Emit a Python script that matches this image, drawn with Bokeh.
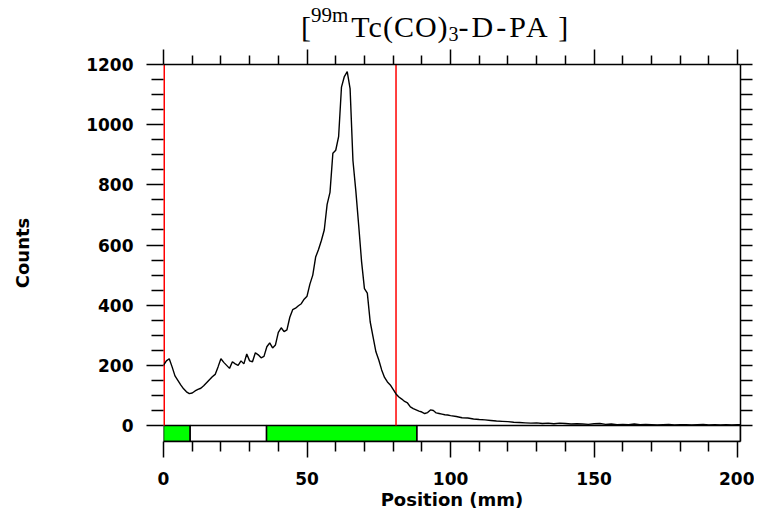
from bokeh.plotting import figure
from bokeh.models import (LinearAxis, FixedTicker, CustomJSTickFormatter, Range1d, Div)
from bokeh.layouts import column
from bokeh.embed import file_html
from bokeh.resources import INLINE

# ---- data ----
position = [0, 1, 2, 3, 4, 5, 6, 7, 8, 9, 10, 11, 12, 13, 14, 15, 16, 17, 18, 19,
            20, 21, 22, 23, 24, 25, 26, 27, 28, 29, 30, 31, 32, 33, 34, 35, 36, 37, 38, 39,
            40, 41, 42, 43, 44, 45, 46, 47, 48, 49, 50, 51, 52, 53, 54, 55, 56, 57, 58, 59,
            60, 61, 62, 63, 64, 65, 66, 67, 68, 69, 70, 71, 72, 73, 74, 75, 76, 77, 78, 79,
            80, 81, 82, 83, 84, 85, 86, 87, 88, 89, 90, 91, 92, 93, 94, 95, 96, 97, 98, 99,
            100, 102, 104, 106, 108, 110, 112, 114, 116, 118, 120, 122, 124, 126, 128, 130,
            132, 134, 136, 138, 140, 142, 144, 146, 148, 150, 152, 154, 156, 158, 160, 162,
            164, 166, 168, 170, 172, 174, 176, 178, 180, 182, 184, 186, 188, 190, 192, 194,
            196, 198, 200, 201]
counts = [200, 215, 222, 195, 165, 150, 135, 122, 112, 106, 108, 115, 120, 124, 132, 142, 152, 162, 170, 195,
          222, 210, 200, 190, 212, 205, 200, 215, 205, 238, 215, 212, 242, 235, 225, 230, 262, 275, 258, 268,
          310, 325, 312, 318, 360, 385, 390, 398, 405, 420, 430, 470, 500, 560, 585, 615, 650, 735, 775, 905,
          915, 960, 1125, 1160, 1176, 1120, 880, 780, 665, 545, 455, 440, 345, 295, 245, 218, 185, 160, 145, 135,
          120, 105, 95, 88, 80, 75, 62, 56, 52, 48, 45, 40, 43, 52, 50, 42, 40, 38, 36, 35,
          33, 30, 26, 25, 22, 20, 19, 17, 15, 14, 13, 11, 10, 9, 8, 9,
          7, 8, 6, 8, 7, 5, 6, 5, 4, 6, 7, 4, 5, 3, 4, 3,
          5, 3, 4, 3, 2, 3, 4, 2, 3, 3, 2, 3, 4, 2, 3, 2,
          3, 2, 3, 3]

zone_left = [0, 9.3, 35.9, 88.3]
zone_right = [9.3, 35.9, 88.3, 201]
zone_color = ["#00ff00", "#ffffff", "#00ff00", "#ffffff"]
marker_positions = [0, 81]

x_major = [0, 50, 100, 150, 200]
x_minor = [v for v in range(0, 201, 10) if v % 50 != 0]
y_major = [0, 200, 400, 600, 800, 1000, 1200]
y_minor = [v for v in range(0, 1201, 50) if v % 200 != 0]

X0, X1 = 0, 201
Y0, Y1 = -53, 1200

TOTAL_W = 754
TITLE_H = 44

p = figure(width=TOTAL_W, height=472, output_backend="svg", toolbar_location=None,
           x_range=Range1d(X0, X1), y_range=Range1d(Y0, Y1),
           min_border_left=163, min_border_right=14, min_border_top=20, min_border_bottom=75)
p.xgrid.visible = False
p.ygrid.visible = False
p.outline_line_color = None
p.background_fill_color = "white"
p.border_fill_color = "white"

# zone strip below the baseline
p.quad(left=zone_left, right=zone_right, bottom=[Y0] * 4, top=[0] * 4,
       fill_color=zone_color, line_color="black", line_width=1.5)

# red region markers
p.segment(x0=marker_positions, y0=[0, 0], x1=marker_positions, y1=[Y1, Y1],
          line_color="#ff0000", line_width=[3, 1.5])

# the trace
p.line(position, counts, line_color="black", line_width=1.4)

tick_font = "DejaVu Sans"

def style(ax, major_out, minor_out, labels=True):
    ax.axis_line_color = "black"
    ax.axis_line_width = 1.5
    ax.major_tick_line_color = "black"
    ax.major_tick_line_width = 1.5
    ax.minor_tick_line_color = "black"
    ax.minor_tick_line_width = 1.5
    ax.major_tick_in = 0
    ax.minor_tick_in = 0
    ax.major_tick_out = major_out
    ax.minor_tick_out = minor_out
    ax.major_label_text_font = tick_font
    ax.major_label_text_font_style = "bold"
    ax.major_label_text_font_size = "17px"
    ax.major_label_text_color = "black"
    ax.axis_label_text_font = tick_font
    ax.axis_label_text_font_style = "bold"
    ax.axis_label_text_font_size = "18px"
    ax.axis_label_text_color = "black"
    if not labels:
        ax.formatter = CustomJSTickFormatter(code="return ''")
        ax.major_label_text_font_size = "0px"

xb = p.xaxis[0]
xb.ticker = FixedTicker(ticks=x_major, minor_ticks=x_minor)
style(xb, 16, 10)
xb.major_label_standoff = 14
xb.axis_label = "Position (mm)"
xb.axis_label_standoff = 1

yl = p.yaxis[0]
yl.ticker = FixedTicker(ticks=y_major, minor_ticks=y_minor)
style(yl, 17, 12)
yl.axis_line_color = None
yl.major_label_standoff = 13
yl.axis_label = "Counts"
yl.axis_label_standoff = 50

top = LinearAxis(ticker=FixedTicker(ticks=x_major, minor_ticks=x_minor))
style(top, 15, 9, labels=False)
p.add_layout(top, "above")

right = LinearAxis(ticker=FixedTicker(ticks=y_major, minor_ticks=y_minor))
style(right, 12, 12, labels=False)
p.add_layout(right, "right")

# chart title with superscript / subscript, as real HTML text
title_html = (
    '<div style="font-family:\'Liberation Serif\',serif;font-size:30px;color:#000;'
    'white-space:nowrap;line-height:44px;height:44px;padding-left:301px;padding-top:5px;">'
    '[<span style="font-size:21px;position:relative;top:-15px;margin-right:3px;">99m</span>'
    '<span style="letter-spacing:1px;">Tc(CO)</span>'
    '<span style="font-size:20px;position:relative;top:4px;">3</span>'
    '<span style="letter-spacing:3px;">-D-PA</span> ]'
    '</div>'
)
title = Div(text=title_html, width=TOTAL_W, height=TITLE_H, margin=(0, 0, 0, 0))

layout = column(title, p, spacing=0)
open("out.html", "w").write(file_html(layout, INLINE))
